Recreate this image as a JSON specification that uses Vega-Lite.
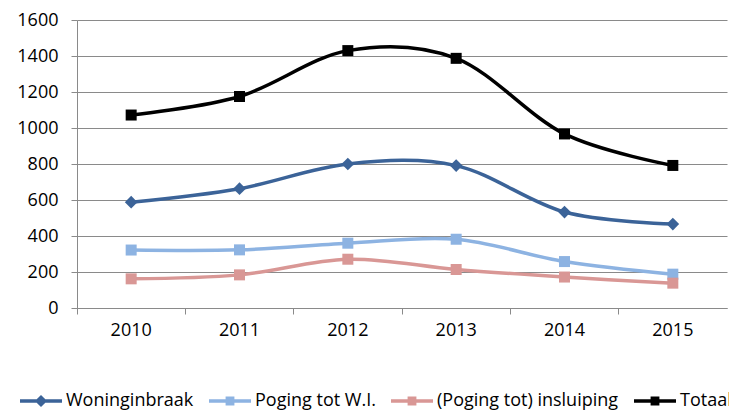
{
  "$schema": "https://vega.github.io/schema/vega-lite/v6.json",
  "width": 650,
  "height": 288,
  "autosize": {"type": "none"},
  "padding": {"left": 77, "top": 20, "right": 2, "bottom": 103},
  "background": "white",
  "config": {"view": {"stroke": null}, "font": "Open Sans"},
  "data": {
    "values": [
      {"reeks": "Woninginbraak", "jaar": "2010", "aantal": 588},
      {"reeks": "Woninginbraak", "jaar": "2011", "aantal": 663},
      {"reeks": "Woninginbraak", "jaar": "2012", "aantal": 800},
      {"reeks": "Woninginbraak", "jaar": "2013", "aantal": 791},
      {"reeks": "Woninginbraak", "jaar": "2014", "aantal": 533},
      {"reeks": "Woninginbraak", "jaar": "2015", "aantal": 466},
      {"reeks": "Poging tot W.I.", "jaar": "2010", "aantal": 322},
      {"reeks": "Poging tot W.I.", "jaar": "2011", "aantal": 323},
      {"reeks": "Poging tot W.I.", "jaar": "2012", "aantal": 360},
      {"reeks": "Poging tot W.I.", "jaar": "2013", "aantal": 382},
      {"reeks": "Poging tot W.I.", "jaar": "2014", "aantal": 258},
      {"reeks": "Poging tot W.I.", "jaar": "2015", "aantal": 188},
      {"reeks": "(Poging tot) insluiping", "jaar": "2010", "aantal": 162},
      {"reeks": "(Poging tot) insluiping", "jaar": "2011", "aantal": 184},
      {"reeks": "(Poging tot) insluiping", "jaar": "2012", "aantal": 271},
      {"reeks": "(Poging tot) insluiping", "jaar": "2013", "aantal": 214},
      {"reeks": "(Poging tot) insluiping", "jaar": "2014", "aantal": 172},
      {"reeks": "(Poging tot) insluiping", "jaar": "2015", "aantal": 138},
      {"reeks": "Totaal", "jaar": "2010", "aantal": 1072},
      {"reeks": "Totaal", "jaar": "2011", "aantal": 1175},
      {"reeks": "Totaal", "jaar": "2012", "aantal": 1430},
      {"reeks": "Totaal", "jaar": "2013", "aantal": 1387},
      {"reeks": "Totaal", "jaar": "2014", "aantal": 967},
      {"reeks": "Totaal", "jaar": "2015", "aantal": 792}
    ]
  },
  "encoding": {
    "x": {
      "field": "jaar",
      "type": "ordinal",
      "scale": {"type": "band", "paddingInner": 0, "paddingOuter": 0},
      "axis": {
        "title": null,
        "bandPosition": 0,
        "labelAngle": 0,
        "labelFontSize": 18,
        "labelColor": "#000000",
        "labelPadding": 7,
        "tickSize": 6,
        "tickColor": "#8a8a8a",
        "domainColor": "#8a8a8a",
        "grid": false
      }
    },
    "y": {
      "field": "aantal",
      "type": "quantitative",
      "scale": {"domain": [0, 1600], "nice": false},
      "axis": {
        "title": null,
        "format": "d",
        "values": [0, 200, 400, 600, 800, 1000, 1200, 1400, 1600],
        "labelFontSize": 18,
        "labelColor": "#000000",
        "labelPadding": 13,
        "tickSize": 6,
        "tickColor": "#8a8a8a",
        "domainColor": "#8a8a8a",
        "gridColor": "#8a8a8a",
        "gridOpacity": 1,
        "grid": true
      }
    },
    "color": {
      "field": "reeks",
      "type": "nominal",
      "scale": {
        "domain": ["Woninginbraak", "Poging tot W.I.", "(Poging tot) insluiping", "Totaal"],
        "range": ["#3B6398", "#8DB3E2", "#D99795", "#000000"]
      },
      "legend": {
        "title": null,
        "orient": "none",
        "direction": "horizontal",
        "legendX": -57,
        "legendY": 360,
        "padding": 0,
        "symbolSize": 1764,
        "symbolOpacity": 1,
        "symbolStrokeWidth": 0,
        "labelFontSize": 18,
        "labelColor": "#000000",
        "labelOffset": 4,
        "labelLimit": 400,
        "columnPadding": 15
      }
    }
  },
  "layer": [
    {"mark": {"type": "line", "interpolate": "cardinal", "strokeWidth": 3.5}},
    {
      "transform": [{"filter": "datum.reeks === 'Woninginbraak'"}],
      "mark": {"type": "point", "filled": true, "opacity": 1, "size": 160, "shape": "diamond"}
    },
    {
      "transform": [{"filter": "datum.reeks !== 'Woninginbraak'"}],
      "mark": {"type": "point", "filled": true, "opacity": 1, "size": 121, "shape": "square"}
    },
    {
      "mark": {"type": "point", "filled": true, "opacity": 0},
      "encoding": {
        "shape": {
          "field": "reeks",
          "type": "nominal",
          "scale": {
            "domain": ["Woninginbraak", "Poging tot W.I.", "(Poging tot) insluiping", "Totaal"],
            "range": [
              "M-1,-0.08H1V0.08H-1Z M0,-0.29L0.29,0L0,0.29L-0.29,0Z",
              "M-1,-0.08H1V0.08H-1Z M-0.21,-0.21H0.21V0.21H-0.21Z",
              "M-1,-0.08H1V0.08H-1Z M-0.21,-0.21H0.21V0.21H-0.21Z",
              "M-1,-0.08H1V0.08H-1Z M-0.21,-0.21H0.21V0.21H-0.21Z"
            ]
          },
          "legend": {
            "title": null,
            "orient": "none",
            "direction": "horizontal",
            "legendX": -57,
            "legendY": 360,
            "padding": 0,
            "symbolSize": 1764,
            "symbolOpacity": 1,
            "symbolStrokeWidth": 0,
            "labelFontSize": 18,
            "labelColor": "#000000",
            "labelOffset": 4,
            "labelLimit": 400,
            "columnPadding": 15
          }
        }
      }
    }
  ]
}
